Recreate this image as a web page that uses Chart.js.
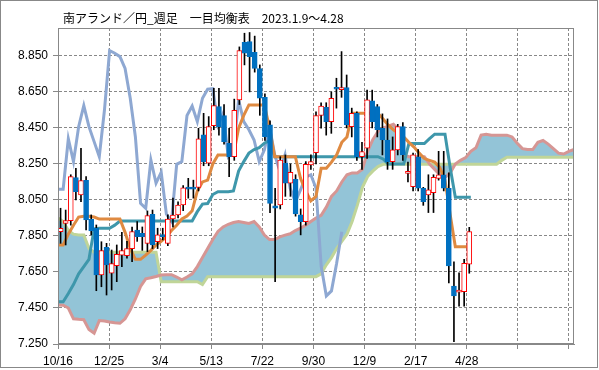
<!DOCTYPE html>
<html lang="ja">
<head>
<meta charset="utf-8">
<title>南アランド／円 週足 一目均衡表</title>
<script src="https://cdn.jsdelivr.net/npm/chart.js@4.4.1/dist/chart.umd.min.js"></script>
<style>
  html, body { margin: 0; padding: 0; background: #fff; }
  #wrap { width: 599px; height: 370px; }
</style>
</head>
<body>
<div id="wrap"><canvas id="ichimoku" width="599" height="370"></canvas></div>
<script>
// --- data (weekly ZAR/JPY, 2023/10/16 start) ---
const titleText = '南アランド／円_週足　一目均衡表　2023.1.9〜4.28';

const xTickPos = [0, 10, 20, 30, 40, 50, 60, 70, 80, 90, 100];
const xTickLabels = ['10/16', '12/25', '3/4', '5/13', '7/22', '9/30', '12/9', '2/17', '4/28', '', ''];
const yTicks = [7.25, 7.45, 7.65, 7.85, 8.05, 8.25, 8.45, 8.65, 8.85];

const open = [
  7.874, 7.920, 7.935, 8.174, 8.078, 8.159, 7.943, 7.893, 7.633, 7.787,
  7.643, 7.685, 7.744, 7.740, 7.780, 7.883, 7.865, 7.809, 7.970, 7.819,
  7.856, 7.809, 7.944, 7.967, 8.022, 8.120, 8.120, 8.120, 8.411, 8.254,
  8.463, 8.569, 8.519, 8.365, 8.290, 8.606, 8.926, 8.930, 8.870, 8.780,
  8.620, 8.467, 8.018, 8.022, 8.254, 8.143, 8.165, 7.967, 7.930, 8.244,
  8.313, 8.519, 8.565, 8.485, 8.670, 8.663, 8.674, 8.457, 8.531, 8.290,
  8.337, 8.600, 8.569, 8.448, 8.383, 8.263, 8.328, 8.457, 8.198, 8.124,
  8.290, 8.115, 8.078, 8.090, 8.170, 8.190, 8.115, 7.572, 7.538, 7.540,
  7.693
];
const high = [
  8.004, 7.994, 8.190, 8.226, 8.337, 8.180, 7.967, 7.911, 7.818, 7.809,
  7.772, 7.800, 7.870, 7.820, 7.900, 7.930, 7.900, 7.989, 7.994, 7.893,
  7.893, 7.967, 8.060, 8.040, 8.130, 8.170, 8.160, 8.448, 8.531, 8.513,
  8.670, 8.670, 8.580, 8.448, 8.610, 8.900, 8.976, 8.980, 8.960, 8.800,
  8.640, 8.490, 8.115, 8.290, 8.300, 8.250, 8.190, 8.000, 8.263, 8.300,
  8.540, 8.590, 8.590, 8.650, 8.726, 8.874, 8.744, 8.560, 8.540, 8.370,
  8.660, 8.660, 8.580, 8.528, 8.500, 8.400, 8.470, 8.480, 8.260, 8.310,
  8.330, 8.120, 8.190, 8.190, 8.320, 8.320, 8.200, 7.707, 7.645, 7.720,
  7.898
];
const low = [
  7.809, 7.800, 7.910, 8.050, 8.040, 7.883, 7.856, 7.546, 7.568, 7.522,
  7.550, 7.596, 7.680, 7.726, 7.707, 7.820, 7.770, 7.763, 7.780, 7.780,
  7.828, 7.796, 7.900, 7.950, 7.990, 8.060, 8.060, 8.100, 8.240, 8.240,
  8.440, 8.410, 8.360, 8.180, 8.270, 8.580, 8.800, 8.650, 8.760, 8.520,
  8.380, 7.980, 7.596, 8.000, 8.070, 8.070, 7.960, 7.856, 7.910, 8.220,
  8.250, 8.448, 8.410, 8.420, 8.560, 8.620, 8.450, 8.400, 8.270, 8.220,
  8.280, 8.450, 8.400, 8.300, 8.220, 8.220, 8.300, 8.270, 8.150, 8.100,
  8.100, 8.020, 7.980, 7.980, 8.160, 8.100, 7.589, 7.263, 7.460, 7.460,
  7.643
];
const close = [
  7.893, 7.935, 8.180, 8.096, 8.157, 7.939, 7.878, 7.633, 7.769, 7.689,
  7.696, 7.748, 7.769, 7.780, 7.874, 7.846, 7.846, 7.963, 7.800, 7.856,
  7.846, 7.944, 7.966, 8.022, 8.118, 8.110, 8.110, 8.390, 8.263, 8.457,
  8.574, 8.457, 8.374, 8.290, 8.548, 8.880, 8.865, 8.846, 8.780, 8.615,
  8.400, 8.031, 8.004, 8.272, 8.143, 8.204, 7.972, 7.930, 8.248, 8.263,
  8.519, 8.572, 8.485, 8.615, 8.665, 8.668, 8.467, 8.531, 8.290, 8.318,
  8.606, 8.485, 8.440, 8.383, 8.263, 8.328, 8.457, 8.300, 8.209, 8.300,
  8.115, 8.040, 8.106, 8.176, 8.190, 8.115, 7.683, 7.517, 7.545, 7.698,
  7.874
];

// 転換線
const tenkan = [
  7.800, 7.800, 7.860, 7.910, 7.955, 7.960, 7.960, 7.955, 7.944, 7.944,
  7.944, 7.944, 7.944, 7.870, 7.780, 7.720, 7.720, 7.744, 7.770, 7.800,
  7.820, 7.846, 7.880, 7.910, 7.944, 7.960, 7.990, 8.100, 8.150, 8.160,
  8.250, 8.300, 8.300, 8.300, 8.300, 8.448, 8.520, 8.578, 8.578, 8.578,
  8.578, 8.448, 8.290, 8.290, 8.290, 8.290, 8.290, 8.170, 8.100, 8.045,
  8.070, 8.226, 8.226, 8.260, 8.300, 8.370, 8.400, 8.531, 8.531, 8.531,
  8.531, 8.531, 8.531, 8.500, 8.465, 8.440, 8.420, 8.400, 8.370, 8.344,
  8.310, 8.280, 8.270, 8.260, 8.230, 8.160, 7.970, 7.790, 7.790, 7.790,
  7.790
];
// 基準線
const kijun = [
  7.485, 7.485, 7.530, 7.580, 7.640, 7.680, 7.720, 7.890, 7.893, 7.893,
  7.893, 7.910, 7.933, 7.933, 7.933, 7.933, 7.933, 7.933, 7.933, 7.933,
  7.933, 7.933, 7.933, 7.933, 7.933, 7.933, 7.933, 7.985, 8.027, 8.030,
  8.080, 8.096, 8.096, 8.096, 8.100, 8.210, 8.263, 8.310, 8.330, 8.340,
  8.365, 8.380, 8.290, 8.290, 8.290, 8.290, 8.290, 8.290, 8.290, 8.290,
  8.290, 8.290, 8.290, 8.290, 8.290, 8.290, 8.290, 8.290, 8.290, 8.290,
  8.290, 8.290, 8.290, 8.278, 8.250, 8.250, 8.250, 8.250, 8.363, 8.363,
  8.363, 8.363, 8.390, 8.415, 8.415, 8.415, 8.230, 8.065, 8.065, 8.065,
  8.065
];
// 遅行スパン
const chikou = [
  8.110, 8.110, 8.390, 8.263, 8.457, 8.574, 8.457, 8.374, 8.290, 8.548,
  8.880, 8.865, 8.846, 8.780, 8.615, 8.400, 8.031, 8.004, 8.272, 8.143,
  8.204, 7.972, 7.930, 8.248, 8.263, 8.519, 8.572, 8.485, 8.615, 8.665,
  8.668, 8.467, 8.531, 8.290, 8.318, 8.606, 8.485, 8.440, 8.383, 8.263,
  8.328, 8.457, 8.300, 8.209, 8.300, 8.115, 8.040, 8.106, 8.176, 8.190,
  8.115, 7.683, 7.517, 7.545, 7.698, 7.874
];
// 先行スパン1
const spanA = [
  7.467, 7.465, 7.450, 7.390, 7.387, 7.385, 7.330, 7.310, 7.380, 7.378,
  7.372, 7.368, 7.365, 7.390, 7.440, 7.500, 7.570, 7.612, 7.618, 7.625,
  7.633, 7.635, 7.635, 7.622, 7.607, 7.622, 7.640, 7.680, 7.730, 7.780,
  7.830, 7.875, 7.900, 7.915, 7.925, 7.930, 7.925, 7.920, 7.930, 7.900,
  7.855, 7.830, 7.830, 7.845, 7.855, 7.862, 7.880, 7.893, 7.910, 7.930,
  7.950, 7.965, 8.010, 8.070, 8.100, 8.150, 8.190, 8.200, 8.200, 8.220,
  8.320, 8.385, 8.430, 8.450, 8.460, 8.470, 8.440, 8.300, 8.290, 8.290,
  8.290, 8.290, 8.250, 8.220, 8.190, 8.175, 8.200, 8.250, 8.270, 8.285,
  8.320, 8.340, 8.410, 8.415, 8.410, 8.410, 8.410, 8.410, 8.400, 8.365,
  8.335, 8.330, 8.330, 8.370, 8.380, 8.360, 8.335, 8.310, 8.305, 8.320,
  8.330
];
// 先行スパン2
const spanB = [
  7.950, 7.930, 7.880, 7.860, 7.856, 7.856, 7.780, 7.760, 7.760, 7.760,
  7.760, 7.760, 7.760, 7.760, 7.760, 7.760, 7.760, 7.760, 7.760, 7.760,
  7.596, 7.596, 7.596, 7.596, 7.596, 7.596, 7.596, 7.596, 7.580, 7.624,
  7.624, 7.624, 7.624, 7.624, 7.624, 7.624, 7.624, 7.624, 7.624, 7.624,
  7.624, 7.624, 7.624, 7.624, 7.624, 7.624, 7.624, 7.624, 7.624, 7.624,
  7.624, 7.640, 7.690, 7.730, 7.780, 7.820, 7.860, 7.930, 8.020, 8.120,
  8.180, 8.210, 8.235, 8.248, 8.248, 8.248, 8.248, 8.248, 8.248, 8.248,
  8.248, 8.248, 8.248, 8.248, 8.248, 8.248, 8.248, 8.248, 8.248, 8.248,
  8.248, 8.248, 8.248, 8.248, 8.248, 8.248, 8.270, 8.287, 8.287, 8.287,
  8.287, 8.287, 8.287, 8.287, 8.287, 8.287, 8.287, 8.287, 8.287, 8.287,
  8.287
];

// --- colours ---
const RED = '#FF0000';
const BLUE = '#0070C0';
const ORANGE = '#DF8A41';
const TEAL = '#3E97AB';
const PERIWINKLE = '#8EA8D2';
const PINK = '#D69694';
const GREEN = '#C0D598';
const CLOUD = '#93C4D7';
const GRID = '#888888';
const FONT = '"Liberation Sans", Arial, sans-serif';

// candles sit between tick marks, lines on tick marks (101 points across)
const LSTEP = 101 / 100;
const linePts = arr => arr.map((v, k) => ({ x: k * LSTEP, y: v }));
const isUp = i => close[i] >= open[i];

// frame + title (Excel-like)
const framePlugin = {
  id: 'frame',
  afterDraw(chart) {
    const { ctx, chartArea: a } = chart;
    ctx.save();
    ctx.strokeStyle = GRID;
    ctx.lineWidth = 1;
    ctx.setLineDash([]);
    ctx.strokeRect(a.left + 0.5, a.top + 0.5, a.right - a.left - 1, a.bottom - a.top - 1);
    ctx.strokeRect(0.5, 0.5, 597, 367);
    ctx.fillStyle = '#000';
    ctx.font = '12px "Noto Sans CJK JP", sans-serif';
    ctx.textBaseline = 'middle';
    ctx.fillText(titleText, 63, 18);
    ctx.restore();
  }
};

const axisCommon = {
  grid: { color: GRID, lineWidth: 1, drawTicks: true, tickLength: 5, tickColor: GRID, offset: false },
  border: { display: true, color: GRID, dash: [3, 2] },
};

new Chart(document.getElementById('ichimoku'), {
  type: 'bar',
  data: {
    datasets: [
      {
        label: 'body',
        data: open.map((o, i) => ({ x: i + 0.5, y: [o, close[i]] })),
        backgroundColor: c => isUp(c.dataIndex) ? '#FFFFFF' : BLUE,
        borderColor: c => isUp(c.dataIndex) ? RED : BLUE,
        borderWidth: 1,
        borderSkipped: false,
        barThickness: 5,
        minBarLength: 2,
        grouped: false,
        order: 0
      },
      {
        label: 'wick',
        data: low.map((l, i) => ({ x: i + 0.5, y: [l, high[i]] })),
        backgroundColor: '#000000',
        borderWidth: 0,
        barThickness: 1,
        grouped: false,
        order: 1
      },
      {
        type: 'line', label: '転換線', data: linePts(tenkan),
        borderColor: ORANGE, borderWidth: 3, pointRadius: 0, fill: false, order: 2
      },
      {
        type: 'line', label: '基準線', data: linePts(kijun),
        borderColor: TEAL, borderWidth: 3, pointRadius: 0, fill: false, order: 3
      },
      {
        type: 'line', label: '遅行スパン', data: linePts(chikou),
        borderColor: PERIWINKLE, borderWidth: 3, pointRadius: 0, fill: false, order: 4
      },
      {
        type: 'line', label: '先行スパン1', data: linePts(spanA),
        borderColor: PINK, borderWidth: 3, pointRadius: 0,
        fill: '+1', backgroundColor: CLOUD, order: 5
      },
      {
        type: 'line', label: '先行スパン2', data: linePts(spanB),
        borderColor: GREEN, borderWidth: 3, pointRadius: 0, fill: false, order: 6
      }
    ]
  },
  options: {
    responsive: false,
    devicePixelRatio: 1,
    animation: false,
    layout: { padding: { top: 28, right: 25, bottom: 0, left: 0 } },
    plugins: {
      legend: { display: false },
      tooltip: { enabled: false },
      filler: { drawTime: 'beforeDatasetsDraw' }
    },
    scales: {
      x: {
        ...axisCommon,
        type: 'linear',
        offset: false,
        min: 0,
        max: 101,
        afterBuildTicks: ax => { ax.ticks = xTickPos.map(v => ({ value: v })); },
        afterFit: ax => { ax.height = 26; },
        ticks: {
          autoSkip: false, maxRotation: 0, padding: 5, color: '#000',
          font: { family: FONT, size: 12 },
          callback: (v, i) => xTickLabels[i]
        }
      },
      y: {
        ...axisCommon,
        type: 'linear',
        min: 7.25,
        max: 9.005,
        afterBuildTicks: ax => { ax.ticks = yTicks.map(v => ({ value: v })); },
        afterFit: ax => { ax.width = 58; },
        ticks: {
          padding: 5, color: '#000',
          font: { family: FONT, size: 12 },
          callback: v => v.toFixed(3)
        }
      }
    }
  },
  plugins: [framePlugin]
});
</script>
</body>
</html>
